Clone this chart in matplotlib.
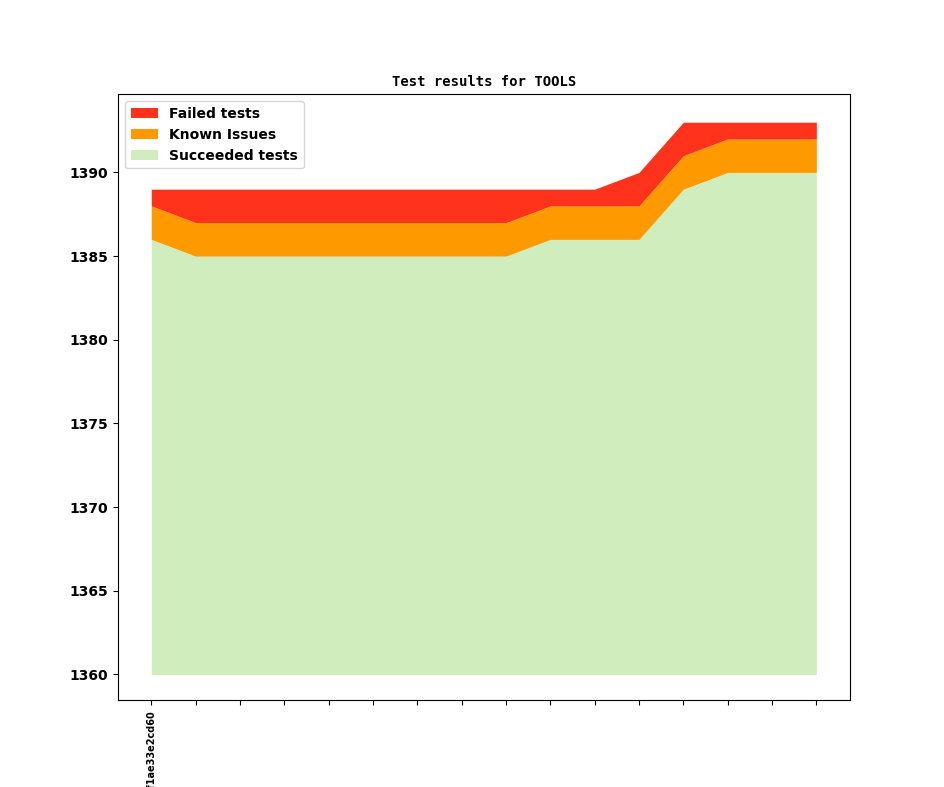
import numpy
from matplotlib import pyplot

builds = ['c3f1ae33e2cd60'] + [''] * 15
succeeded = [1386, 1385, 1385, 1385, 1385, 1385, 1385, 1385, 1385, 1386, 1386, 1386, 1389, 1390, 1390, 1390]
known = [2, 2, 2, 2, 2, 2, 2, 2, 2, 2, 2, 2, 2, 2, 2, 2]
failed = [1, 2, 2, 2, 2, 2, 2, 2, 2, 1, 1, 2, 2, 1, 1, 1]
base = 1360

pyplot.rcParams['font.weight'] = 'bold'
fig, ax = pyplot.subplots(figsize=(9.44, 7.87), dpi=100)
fig.subplots_adjust(left=0.125, right=0.9, top=0.88, bottom=0.11)

x = numpy.arange(len(builds))
s = numpy.array(succeeded)
k = s + numpy.array(known)
f = k + numpy.array(failed)

ax.fill_between(x, base, s, color='#cfedbd', linewidth=0, label='Succeeded tests')
ax.fill_between(x, s, k, color='#ff9900', linewidth=0, label='Known Issues')
ax.fill_between(x, k, f, color='#ff331c', linewidth=0, label='Failed tests')

handles, labels = ax.get_legend_handles_labels()
ax.legend(handles[::-1], labels[::-1], loc='upper left')
ax.set_xticks(x)
ax.set_xticklabels(builds, rotation=90, fontsize=7)
ax.set_xlim(-0.75, 15.75)
ax.set_ylim(1358.45, 1394.66)
ax.set_title('Test results for TOOLS', fontsize=10, family='monospace', fontweight='bold')

fig.savefig('out.png')
